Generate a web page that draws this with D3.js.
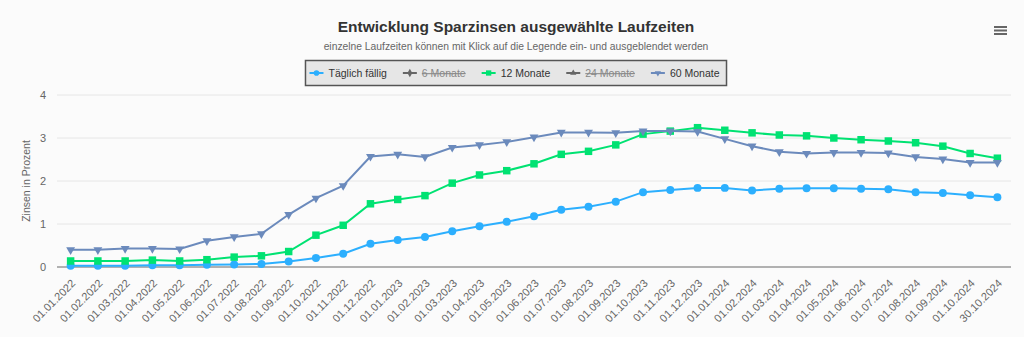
<!DOCTYPE html>
<html>
<head>
<meta charset="utf-8">
<script src="https://cdn.jsdelivr.net/npm/d3@7"></script>
<style>
  body { margin: 0; background: #fbfbfb; font-family: "Liberation Sans", Arial, sans-serif; }
  svg { display: block; }
</style>
</head>
<body>
<div id="chart"></div>
<script>
// Kategorien (Stichtage)
var dates = ["01.01.2022", "01.02.2022", "01.03.2022", "01.04.2022", "01.05.2022", "01.06.2022",
    "01.07.2022", "01.08.2022", "01.09.2022", "01.10.2022", "01.11.2022", "01.12.2022",
    "01.01.2023", "01.02.2023", "01.03.2023", "01.04.2023", "01.05.2023", "01.06.2023",
    "01.07.2023", "01.08.2023", "01.09.2023", "01.10.2023", "01.11.2023", "01.12.2023",
    "01.01.2024", "01.02.2024", "01.03.2024", "01.04.2024", "01.05.2024", "01.06.2024",
    "01.07.2024", "01.08.2024", "01.09.2024", "01.10.2024", "30.10.2024"]

var taeglich = [0.03, 0.03, 0.03, 0.04, 0.04, 0.05, 0.06, 0.07, 0.13, 0.21, 0.31, 0.54,
    0.63, 0.70, 0.83, 0.95, 1.05, 1.18, 1.33, 1.40, 1.52, 1.74, 1.79, 1.84,
    1.84, 1.78, 1.82, 1.83, 1.83, 1.82, 1.81, 1.74, 1.72, 1.67, 1.62]

var monate12 = [0.14, 0.14, 0.14, 0.16, 0.14, 0.17, 0.23, 0.26, 0.36, 0.74, 0.97, 1.47,
    1.57, 1.66, 1.95, 2.14, 2.24, 2.40, 2.62, 2.69, 2.84, 3.09, 3.16, 3.24,
    3.18, 3.12, 3.07, 3.05, 3.00, 2.96, 2.93, 2.89, 2.81, 2.64, 2.53]

var monate60 = [0.40, 0.40, 0.43, 0.43, 0.42, 0.61, 0.70, 0.77, 1.22, 1.60, 1.89, 2.57,
    2.62, 2.56, 2.78, 2.84, 2.91, 3.02, 3.13, 3.13, 3.12, 3.16, 3.16, 3.15,
    2.98, 2.81, 2.68, 2.64, 2.66, 2.66, 2.65, 2.56, 2.51, 2.43, 2.43]

var yTicks = [0, 1, 2, 3, 4]

// Serien in Legendenreihenfolge; 6 und 24 Monate sind ausgeblendet
var series = [
    { name: "Täglich fällig", color: "#2caffe", symbol: d3.symbolCircle, size: 50, values: taeglich, visible: true },
    { name: "6 Monate", color: "#544fc5", symbol: d3.symbolDiamond, size: 40, values: null, visible: false },
    { name: "12 Monate", color: "#00e272", symbol: d3.symbolSquare, size: 56, values: monate12, visible: true },
    { name: "24 Monate", color: "#fe6a35", symbol: d3.symbolTriangle, size: 34, values: null, visible: false },
    { name: "60 Monate", color: "#6b8abc", symbol: d3.symbolTriangle, size: 34, values: monate60, visible: true, flip: true }
]

var width = 1024, height = 337
var margin = { top: 95, right: 13, bottom: 70, left: 57 }

var svg = d3.select("#chart").append("svg")
    .attr("width", width)
    .attr("height", height)

// Titel
svg.append("text")
    .attr("x", 516).attr("y", 32)
    .attr("text-anchor", "middle")
    .style("font-size", "15.5px").style("font-weight", "bold").style("fill", "#333")
    .text("Entwicklung Sparzinsen ausgewählte Laufzeiten")

svg.append("text")
    .attr("x", 516).attr("y", 50)
    .attr("text-anchor", "middle")
    .style("font-size", "10.3px").style("fill", "#666")
    .text("einzelne Laufzeiten können mit Klick auf die Legende ein- und ausgeblendet werden")

// Menü-Symbol
var menu = svg.append("g").attr("transform", "translate(994,27)")
for (let i = 0; i < 3; i++) {
    menu.append("rect").attr("x", 0).attr("y", i * 3.5 - 1).attr("width", 13).attr("height", 2).attr("fill", "#666")
}

var x = d3.scalePoint()
    .domain(dates)
    .range([margin.left, width - margin.right])
    .padding(0.5)

var y = d3.scaleLinear()
    .domain([0, 4])
    .range([height - margin.bottom, margin.top])

// Gitternetz
svg.append("g")
    .selectAll("line")
    .data(yTicks.filter(d => d > 0))
    .enter()
    .append("line")
    .attr("x1", margin.left).attr("x2", width - margin.right)
    .attr("y1", d => y(d)).attr("y2", d => y(d))
    .attr("stroke", "#e6e6e6").attr("stroke-width", 1)

// y-Achse
var yAxis = svg.append("g")
    .attr("transform", "translate(" + margin.left + ",0)")
    .call(d3.axisLeft(y).tickValues(yTicks).tickFormat(d3.format("d")).tickSize(0).tickPadding(11))
yAxis.select(".domain").remove()
yAxis.selectAll("text")
    .style("font-family", "Liberation Sans, Arial, sans-serif")
    .style("font-size", "11px").style("fill", "#666")

svg.append("text")
    .attr("transform", "translate(30," + y(2) + ") rotate(-90)")
    .attr("text-anchor", "middle")
    .style("font-size", "10.5px").style("fill", "#666")
    .text("Zinsen in Prozent")

// x-Achse
var xAxis = svg.append("g")
    .attr("transform", "translate(0," + y(0) + ")")
    .call(d3.axisBottom(x).tickSize(0).tickPadding(0))
xAxis.select(".domain").attr("stroke", "#999").attr("stroke-width", 1.5)
    .attr("d", "M" + margin.left + ",0H" + (width - margin.right))
xAxis.selectAll("text")
    .attr("text-anchor", "end")
    .attr("dy", null).attr("y", 0)
    .attr("transform", "translate(5,17) rotate(-45)")
    .style("font-family", "Liberation Sans, Arial, sans-serif")
    .style("font-size", "11px").style("fill", "#666")

// Linien und Marker
var line = d3.line()
    .x((d, i) => x(dates[i]))
    .y(d => y(d))

series.filter(s => s.visible).forEach(function(s) {
    var g = svg.append("g")
    g.append("path")
        .datum(s.values)
        .attr("d", line)
        .attr("fill", "none")
        .attr("stroke", s.color)
        .attr("stroke-width", 2)
    g.selectAll("path.marker")
        .data(s.values)
        .enter()
        .append("path")
        .attr("class", "marker")
        .attr("d", d3.symbol().type(s.symbol).size(s.size))
        .attr("transform", (d, i) => "translate(" + x(dates[i]) + "," + y(d) + ")" + (s.flip ? " rotate(180)" : ""))
        .attr("fill", s.color)
})

// Legende
var legend = svg.append("g")
var lx = 0
var items = []
series.forEach(function(s, i) {
    var it = legend.append("g")
    var symX = lx
    it.append("line")
        .attr("x1", symX - 7).attr("x2", symX + 7).attr("y1", 0).attr("y2", 0)
        .attr("stroke", s.visible ? s.color : "#666").attr("stroke-width", 2)
    it.append("path")
        .attr("d", d3.symbol().type(s.symbol).size(s.size * 0.5))
        .attr("transform", "translate(" + symX + ",0)" + (s.flip ? " rotate(180)" : ""))
        .attr("fill", s.visible ? s.color : "#666")
    var t = it.append("text")
        .attr("x", symX + 12).attr("y", 4)
        .style("font-size", "10.5px")
        .style("fill", s.visible ? "#333" : "#888")
        .style("text-decoration", s.visible ? "none" : "line-through")
        .text(s.name)
    var tEnd = symX + 12 + t.node().getComputedTextLength()
    lx = tEnd + 23
    items.push(tEnd)
})
var legendW = items[items.length - 1] + 7 + 11
var legendX = 516 - legendW / 2 + 11
legend.attr("transform", "translate(" + legendX + ",73)")
legend.insert("rect", ":first-child")
    .attr("x", -11).attr("y", -12.5)
    .attr("width", legendW).attr("height", 25)
    .attr("fill", "#e6e6e6")
    .attr("stroke", "#555").attr("stroke-width", 1.5)
</script>
</body>
</html>
